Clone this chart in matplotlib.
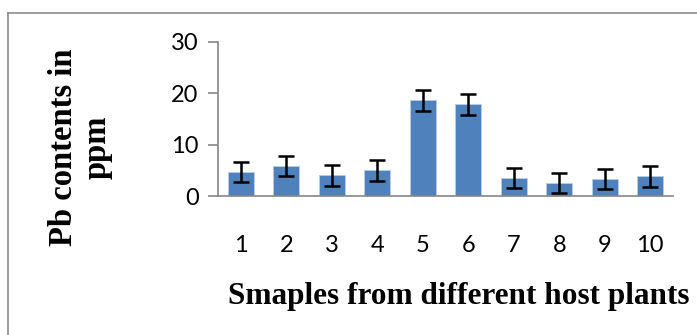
#!/usr/bin/env python3
"""Pb contents per sample, bar chart with error bars."""

import matplotlib

matplotlib.use("Agg")
import matplotlib.pyplot as plt
from matplotlib.lines import Line2D

W, H, DPI = 697, 335, 100

samples = ["1", "2", "3", "4", "5", "6", "7", "8", "9", "10"]
pb_ppm = [4.7, 5.8, 4.0, 5.0, 18.6, 17.8, 3.5, 2.5, 3.3, 3.8]
pb_err = [2.0, 2.0, 2.0, 2.0, 2.0, 2.0, 2.0, 2.0, 2.0, 2.0]
y_ticks = [0, 10, 20, 30]

BAR = "#4F81BD"
AXIS = "#868686"

fig = plt.figure(figsize=(W / DPI, H / DPI), dpi=DPI)
ax = fig.add_axes([218 / W, 1 - 196 / H, (673 - 218) / W, (196 - 41.7) / H])

x = list(range(1, len(samples) + 1))
ax.bar(x, pb_ppm, width=0.58, color=BAR, edgecolor="#B9CDE5", linewidth=0.6, zorder=2)
ax.errorbar(x, pb_ppm, yerr=pb_err, fmt="none", ecolor="black",
            elinewidth=1.8, capsize=5.5, capthick=1.8, zorder=3)

ax.set_xlim(0.5, len(samples) + 0.5)
ax.set_ylim(0, 30)
ax.set_yticks(y_ticks)
ax.set_xticks(x)
ax.set_xticklabels(samples)

for side in ("top", "right"):
    ax.spines[side].set_visible(False)
for side in ("left", "bottom"):
    ax.spines[side].set_color(AXIS)
    ax.spines[side].set_linewidth(1.2)

ax.tick_params(axis="y", direction="out", length=7, width=1.2, color=AXIS,
               pad=7, labelsize=17)
ax.tick_params(axis="x", length=0, pad=28, labelsize=17)
for lab in ax.get_xticklabels() + ax.get_yticklabels():
    lab.set_family("Lato")

fig.text(80 / W, 1 - 147 / H, "Pb contents in\nppm", rotation=90,
         ha="center", va="center", multialignment="center",
         family="Liberation Serif", weight="bold", fontsize=23.5, linespacing=1.1)
fig.text(228 / W, 1 - 304 / H, "Smaples from different host plants",
         ha="left", va="baseline", family="Liberation Serif",
         weight="bold", fontsize=22.5)

# outer chart frame (left and top edges visible)
fig.add_artist(Line2D([7.5 / W, 7.5 / W], [0, 1 - 13 / H], color="#8C8C8C",
                      linewidth=1.2, transform=fig.transFigure))
fig.add_artist(Line2D([7.5 / W, 1], [1 - 13 / H, 1 - 13 / H], color="#8C8C8C",
                      linewidth=1.2, transform=fig.transFigure))

fig.savefig("out.png", dpi=DPI, facecolor="white")
